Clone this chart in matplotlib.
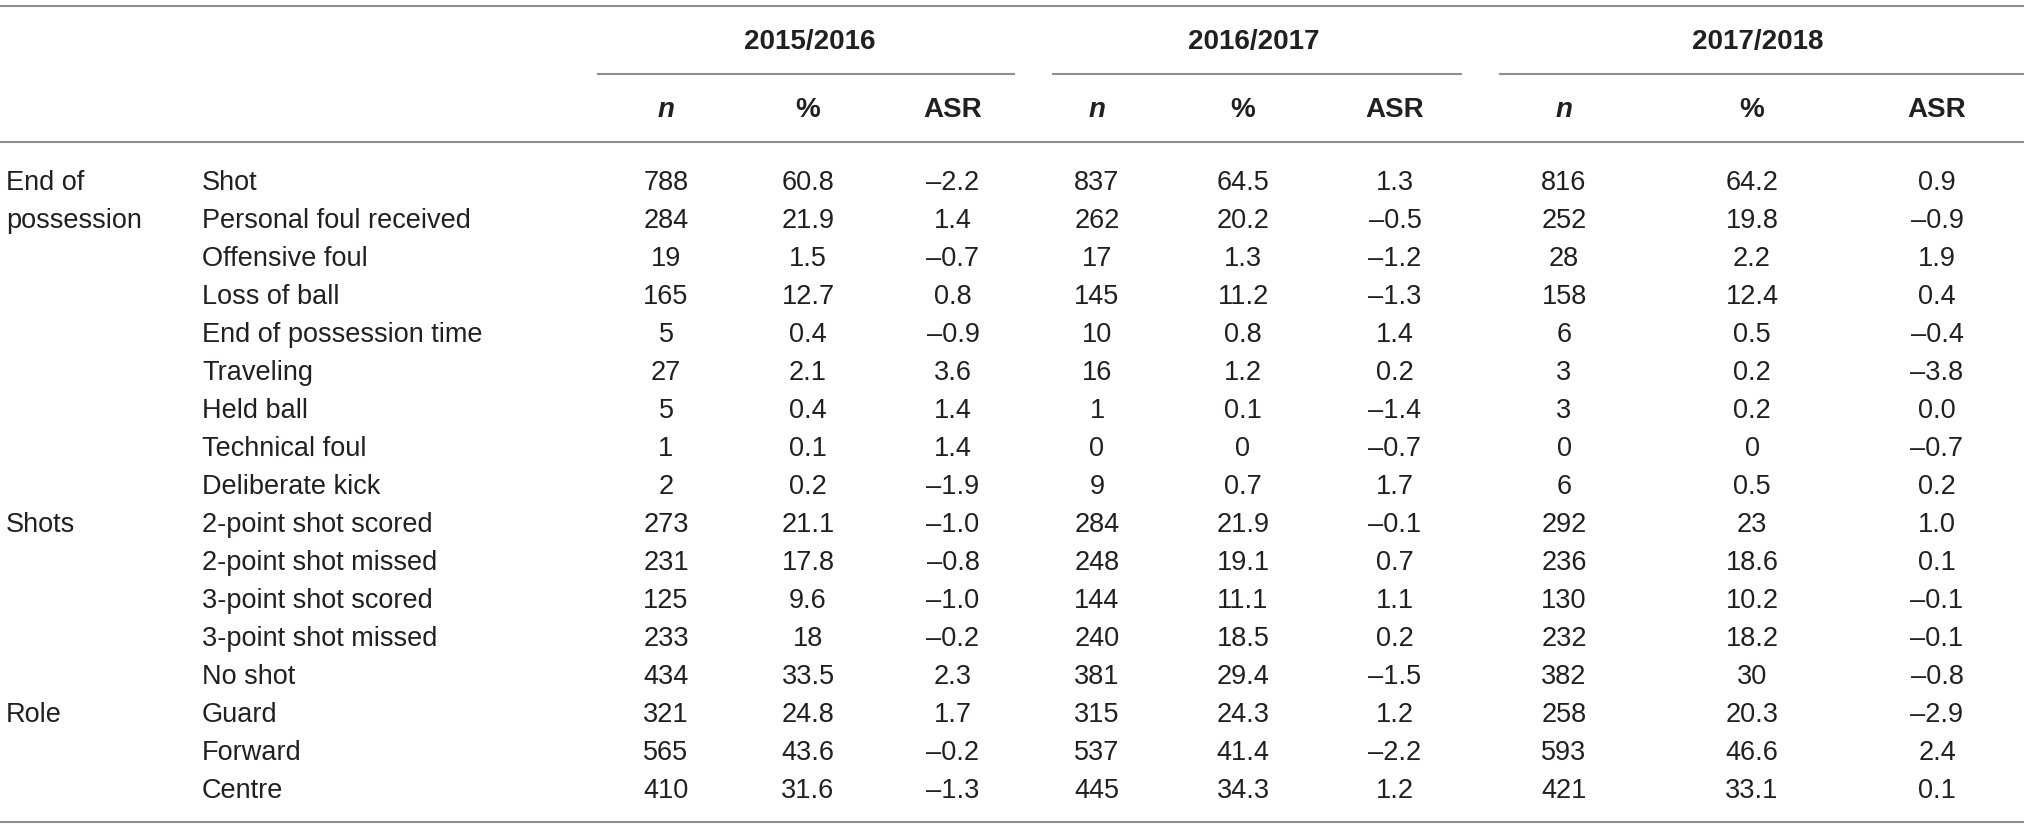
import matplotlib
matplotlib.use("Agg")
import matplotlib.pyplot as plt

# ====== TABLE DATA ======
groups = ["End of\npossession", "Shots", "Role"]
group_rows = [0, 9, 14]

categories = [
    "Shot", "Personal foul received", "Offensive foul", "Loss of ball",
    "End of possession time", "Traveling", "Held ball", "Technical foul",
    "Deliberate kick", "2-point shot scored", "2-point shot missed",
    "3-point shot scored", "3-point shot missed", "No shot",
    "Guard", "Forward", "Centre",
]

seasons = ["2015/2016", "2016/2017", "2017/2018"]

n_1516 = [788, 284, 19, 165, 5, 27, 5, 1, 2, 273, 231, 125, 233, 434, 321, 565, 410]
pct_1516 = ["60.8", "21.9", "1.5", "12.7", "0.4", "2.1", "0.4", "0.1", "0.2",
            "21.1", "17.8", "9.6", "18", "33.5", "24.8", "43.6", "31.6"]
asr_1516 = [-2.2, 1.4, -0.7, 0.8, -0.9, 3.6, 1.4, 1.4, -1.9,
            -1.0, -0.8, -1.0, -0.2, 2.3, 1.7, -0.2, -1.3]

n_1617 = [837, 262, 17, 145, 10, 16, 1, 0, 9, 284, 248, 144, 240, 381, 315, 537, 445]
pct_1617 = ["64.5", "20.2", "1.3", "11.2", "0.8", "1.2", "0.1", "0", "0.7",
            "21.9", "19.1", "11.1", "18.5", "29.4", "24.3", "41.4", "34.3"]
asr_1617 = [1.3, -0.5, -1.2, -1.3, 1.4, 0.2, -1.4, -0.7, 1.7,
            -0.1, 0.7, 1.1, 0.2, -1.5, 1.2, -2.2, 1.2]

n_1718 = [816, 252, 28, 158, 6, 3, 3, 0, 6, 292, 236, 130, 232, 382, 258, 593, 421]
pct_1718 = ["64.2", "19.8", "2.2", "12.4", "0.5", "0.2", "0.2", "0", "0.5",
            "23", "18.6", "10.2", "18.2", "30", "20.3", "46.6", "33.1"]
asr_1718 = [0.9, -0.9, 1.9, 0.4, -0.4, -3.8, 0.0, -0.7, 0.2,
            1.0, 0.1, -0.1, -0.1, -0.8, -2.9, 2.4, 0.1]

# ====== LAYOUT ======
W, H = 2031, 831
font = "Liberation Sans"
text_color = "#231f20"
line_color = "#8f8f8f"

fig = plt.figure(figsize=(W / 100, H / 100), dpi=100)
ax = fig.add_axes([0, 0, 1, 1])
ax.set_xlim(0, W)
ax.set_ylim(H, 0)
ax.axis("off")


def fmt_asr(v):
    s = f"{abs(v):.1f}"
    return "\u2013" + s if v < 0 else s


# column centres (n, %, ASR) per season, label centres and group underline spans
col_x = [(666, 808, 953), (1097, 1243, 1395), (1564, 1752, 1937)]
group_x = [810, 1254, 1758]
group_lines = [(598, 1014), (1053, 1461), (1500, 2023)]

data = [(n_1516, pct_1516, asr_1516),
        (n_1617, pct_1617, asr_1617),
        (n_1718, pct_1718, asr_1718)]

bold = dict(family=font, fontsize=20, fontweight="bold", color=text_color,
            ha="center", va="center")
body = dict(family=font, fontsize=19.5, color=text_color, va="center")

# horizontal rules
for y in (6, 142, 822):
    ax.plot([0, 2023], [y, y], color=line_color, lw=1.5)
for x0, x1 in group_lines:
    ax.plot([x0, x1], [74, 74], color=line_color, lw=1.5)

# header
for label, gx, cols in zip(seasons, group_x, col_x):
    ax.text(gx, 42, label, **bold)
    ax.text(cols[0], 110, "n", style="italic", **bold)
    ax.text(cols[1], 110, "%", **bold)
    ax.text(cols[2], 110, "ASR", **bold)

# body
y0, dy = 183, 38.0
for g, r in zip(groups, group_rows):
    for k, part in enumerate(g.split("\n")):
        ax.text(6, y0 + (r + k) * dy, part, ha="left", **body)

for i, cat in enumerate(categories):
    y = y0 + i * dy
    ax.text(202, y, cat, ha="left", **body)
    for (ns, ps, asrs), cols in zip(data, col_x):
        ax.text(cols[0], y, str(ns[i]), ha="center", **body)
        ax.text(cols[1], y, ps[i], ha="center", **body)
        ax.text(cols[2], y, fmt_asr(asrs[i]), ha="center", **body)

plt.savefig("out.png", dpi=100)
